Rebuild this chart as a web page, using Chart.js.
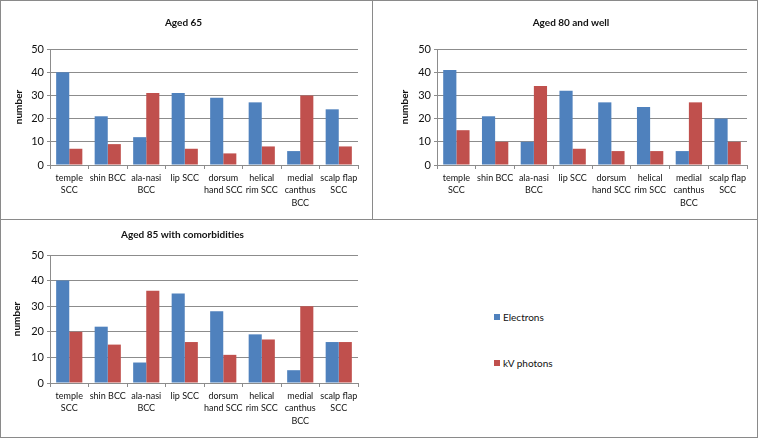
<!DOCTYPE html>
<html>
<head>
<meta charset="utf-8">
<script src="https://cdn.jsdelivr.net/npm/chart.js@4.4.1/dist/chart.umd.min.js"></script>
<style>
  body { margin: 0; background: #fff; }
  #wrap { position: relative; width: 758px; height: 438px; font-family: Lato, sans-serif; }
  .line { position: absolute; background: #8a8a8a; }
  canvas { position: absolute; }
  .legend { position: absolute; left: 494px; font-size: 10px; color: #111; line-height: 12px; }
  .legend span { display: inline-block; width: 6px; height: 6px; margin-right: 3px; vertical-align: 1px; }
</style>
</head>
<body>
<div id="wrap">
  <canvas id="chart65" width="372" height="219" style="left:0;top:0"></canvas>
  <canvas id="chart80" width="384" height="219" style="left:374px;top:0"></canvas>
  <canvas id="chart85" width="372" height="217" style="left:0;top:220px"></canvas>

  <div class="legend" style="top:311px"><span style="background:#4f81bd"></span>Electrons</div>
  <div class="legend" style="top:357px"><span style="background:#c0504d"></span>kV photons</div>

  <div class="line" style="left:0;top:0;width:758px;height:1px"></div>
  <div class="line" style="left:0;top:437px;width:758px;height:1px"></div>
  <div class="line" style="left:0;top:0;width:1px;height:438px"></div>
  <div class="line" style="left:757px;top:0;width:1px;height:438px"></div>
  <div class="line" style="left:372px;top:0;width:1px;height:219px"></div>
  <div class="line" style="left:0;top:219px;width:758px;height:1px"></div>
</div>

<script>
// lesion sites on the x axis (already wrapped like the original)
const categories = [
  ['temple', 'SCC'], ['shin BCC'], ['ala-nasi', 'BCC'], ['lip SCC'],
  ['dorsum', 'hand SCC'], ['helical', 'rim SCC'], ['medial', 'canthus', 'BCC'], ['scalp flap', 'SCC']
];

const electrons65 = [40, 21, 12, 31, 29, 27, 6, 24];
const photons65   = [7, 9, 31, 7, 5, 8, 30, 8];

const electrons80 = [41, 21, 10, 32, 27, 25, 6, 20];
const photons80   = [15, 10, 34, 7, 6, 6, 27, 10];

const electrons85 = [40, 22, 8, 35, 28, 19, 5, 16];
const photons85   = [20, 15, 36, 16, 11, 17, 30, 16];

const yMin = 0;
const yMax = 50;
const yStep = 10;

const BLUE = '#4f81bd';
const RED = '#c0504d';
const GRID = '#8c8c8c';

Chart.defaults.font.family = 'Lato, sans-serif';
Chart.defaults.color = '#111';

const makeChart = (id, title, electrons, photons, pad, yWidth, titlePad) => {
  const ctx = document.getElementById(id).getContext('2d');
  return new Chart(ctx, {
    type: 'bar',
    data: {
      labels: categories,
      datasets: [
        { label: 'Electrons', data: electrons, backgroundColor: BLUE },
        { label: 'kV photons', data: photons, backgroundColor: RED },
      ],
    },
    options: {
      responsive: false,
      animation: false,
      devicePixelRatio: 1,
      layout: { padding: pad },
      datasets: {
        bar: { categoryPercentage: 0.68, barPercentage: 1 },
      },
      plugins: {
        legend: { display: false },
        tooltip: { enabled: false },
        title: {
          display: true,
          text: title,
          color: '#111',
          font: { size: 10, weight: 'bold' },
          padding: titlePad,
        },
      },
      scales: {
        x: {
          grid: { offset: true, drawOnChartArea: false, color: GRID, tickLength: 4 },
          border: { color: GRID },
          ticks: {
            autoSkip: false,
            maxRotation: 0,
            minRotation: 0,
            padding: 3,
            font: { size: 9, lineHeight: 1.37 },
          },
          afterFit: (scale) => { scale.height = 54; },
        },
        y: {
          min: yMin,
          max: yMax,
          grid: { color: GRID, tickLength: 3 },
          border: { color: GRID },
          ticks: { stepSize: yStep, padding: 3, font: { size: 11 } },
          title: {
            display: true,
            text: 'number',
            color: '#111',
            font: { size: 10, weight: 'bold' },
          },
          afterFit: (scale) => { scale.width = yWidth; },
        },
      },
    },
  });
};

makeChart('chart65', 'Aged 65', electrons65, photons65,
  { left: 9, right: 14, top: 0, bottom: 0 }, 41, { top: 17, bottom: 20 });
makeChart('chart80', 'Aged 80 and well', electrons80, photons80,
  { left: 21, right: 11, top: 0, bottom: 0 }, 42, { top: 17, bottom: 20 });
makeChart('chart85', 'Aged 85 with comorbidities', electrons85, photons85,
  { left: 7, right: 14, top: 0, bottom: 0 }, 43, { top: 9, bottom: 14 });
</script>
</body>
</html>
